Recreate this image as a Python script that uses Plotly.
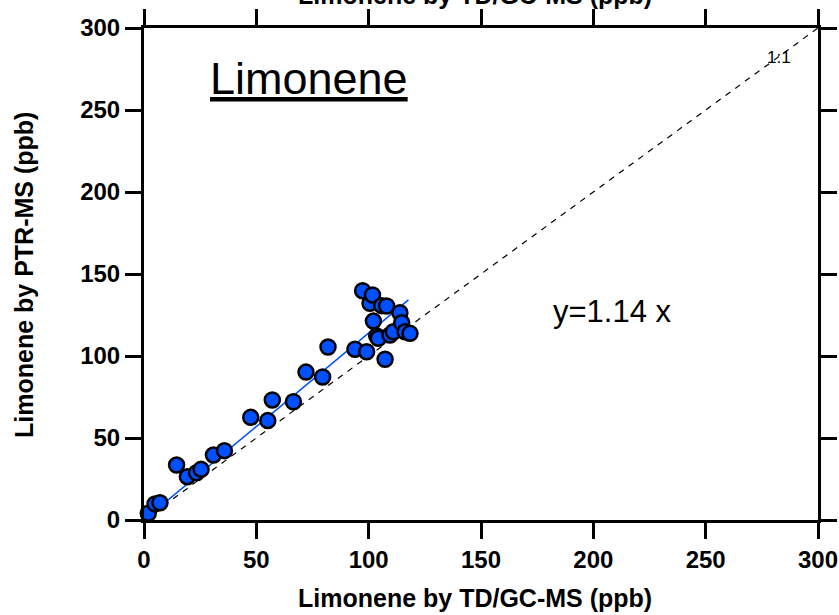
import plotly.graph_objects as go

gc_ms = [1.9, 4.9, 7.1, 14.5, 19.3, 23.4, 25.4, 30.9, 35.8, 47.5, 55.1, 57.1, 66.5,
         72.1, 79.5, 81.9, 93.9, 97.3, 99.1, 100.6, 101.7, 102.1, 103.6, 104.3, 105.8,
         107.3, 108.0, 109.5, 111.0, 113.9, 114.7, 116.2, 118.4]
ptr_ms = [4.1, 9.8, 10.5, 33.5, 26.4, 28.8, 30.9, 39.6, 42.3, 62.6, 60.6, 73.2, 72.1,
          90.2, 87.2, 105.5, 104.1, 139.8, 102.6, 132.1, 137.2, 121.3, 112.2, 110.8, 130.7,
          98.0, 130.5, 112.8, 114.8, 126.4, 120.3, 114.8, 113.8]
slope = 1.14
fit_x = [1.9, 117.7]
one_to_one = [0, 300]
ticks = [0, 50, 100, 150, 200, 250, 300]

fit_y = [slope * v for v in fit_x]

W, H = 839, 615
L, R, T, B = 144, 21, 28, 95
PW, PH = W - L - R, H - T - B


def px(xp):
    return (xp - L) / PW


def py(yp):
    return (H - B - yp) / PH


FONT = "Liberation Sans"

fig = go.Figure()
fig.add_trace(go.Scatter(x=one_to_one, y=one_to_one, mode="lines",
                         line=dict(color="black", width=1.2, dash="6px,6px"),
                         showlegend=False, hoverinfo="skip"))
fig.add_trace(go.Scatter(x=fit_x, y=fit_y, mode="lines",
                         line=dict(color="#0050ff", width=1.5),
                         showlegend=False, hoverinfo="skip"))
fig.add_trace(go.Scatter(x=gc_ms, y=ptr_ms, mode="markers",
                         marker=dict(size=15, color="#0050ff",
                                     line=dict(color="black", width=2.5)),
                         showlegend=False, cliponaxis=False))

axis_common = dict(range=[0, 300], tickvals=ticks, showgrid=False, zeroline=False,
                   showline=True, linecolor="black", linewidth=3, mirror="allticks",
                   ticks="outside", ticklen=16, tickwidth=3, tickcolor="black",
                   automargin=False,
                   tickfont=dict(family=FONT, size=24, color="black", weight="bold"))

fig.update_layout(
    width=W, height=H,
    margin=dict(l=L, r=R, t=T, b=B, autoexpand=False),
    plot_bgcolor="white", paper_bgcolor="white",
    xaxis=dict(**axis_common),
    yaxis=dict(**axis_common),
    annotations=[
        dict(text="Limonene by TD/GC-MS (ppb)", x=px(475), y=py(598), xref="paper", yref="paper",
             showarrow=False, yanchor="middle", xanchor="center",
             font=dict(family=FONT, size=25, color="black", weight="bold")),
        dict(text="Limonene by PTR-MS (ppb)", x=px(24), y=py(275), xref="paper", yref="paper",
             showarrow=False, yanchor="middle", xanchor="center", textangle=-90,
             font=dict(family=FONT, size=25, color="black", weight="bold")),
        dict(text="<u>Limonene</u>", x=px(309), y=py(78), xref="paper", yref="paper",
             showarrow=False, yanchor="middle", xanchor="center",
             font=dict(family=FONT, size=45, color="black")),
        dict(text="y=1.14 x", x=px(612), y=py(312), xref="paper", yref="paper",
             showarrow=False, yanchor="middle", xanchor="center",
             font=dict(family=FONT, size=31, color="black")),
        dict(text="1:1", x=px(779), y=py(57), xref="paper", yref="paper",
             showarrow=False, yanchor="middle", xanchor="center",
             font=dict(family=FONT, size=17, color="black")),
        dict(text="Limonene by TD/GC-MS (ppb)", x=px(475), y=py(-5), xref="paper", yref="paper",
             showarrow=False, yanchor="middle", xanchor="center",
             font=dict(family=FONT, size=25, color="black", weight="bold")),
    ],
)

fig.write_html("out.html")
